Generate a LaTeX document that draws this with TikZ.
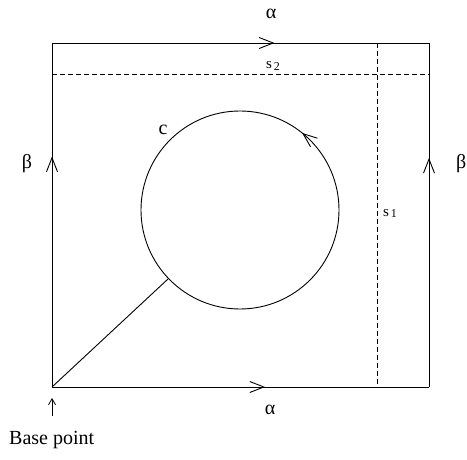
\documentclass[tikz,border=0pt]{standalone}
\usepackage{fontspec}
\setmainfont{Liberation Serif}
\usetikzlibrary{arrows.meta,decorations.markings}
\tikzset{
  edge/.style={line width=0.9pt},
  dashline/.style={line width=0.8pt, dash pattern=on 5pt off 3pt},
  midarrow/.style={postaction={decorate},
    decoration={markings, mark=at position #1 with {\arrow{Straight Barb[length=14pt,width=11pt,line width=0.9pt]}}}},
  lbl/.style={inner sep=0pt, font=\fontsize{20}{22}\selectfont},
  slbl/.style={inner sep=0pt, font=\fontsize{15}{17}\selectfont},
}
\begin{document}
\begin{tikzpicture}[x=1pt,y=-1pt]
\useasboundingbox (0,0) rectangle (467,460);
\coordinate (A) at (52,387);
\coordinate (B) at (429,387);
\coordinate (C) at (429,43);
\coordinate (D) at (52,43);
\coordinate (S2l) at (52,74);
\coordinate (S2r) at (429,74);
\coordinate (S1t) at (377,43);
\coordinate (S1b) at (377,387);
\coordinate (E) at (339,210);
\coordinate (T) at (168,279);
% square
\draw[edge, midarrow=0.565] (A) -- (B);
\draw[edge, midarrow=0.59] (D) -- (C);
\draw[edge, midarrow=0.67] (A) -- (D);
\draw[edge, midarrow=0.666] (B) -- (C);
% dashed curves
\draw[dashline] (S2l) -- (S2r);
\draw[dashline] (S1t) -- (S1b);
% circle
\draw[edge, midarrow=0.142] (E) arc[start angle=0, end angle=-360, radius=99];
\draw[edge] (A) -- (T);
% base point arrow
\coordinate (bp1) at (52,416);
\coordinate (bp2) at (52,398);
\draw[line width=0.8pt, -{Straight Barb[length=6pt,width=7pt]}] (bp1) -- (bp2);
% labels
\node[lbl] (la1) at (271,14) {α};
\node[lbl] (la2) at (270,410) {α};
\node[lbl] (lb1) at (27,164) {β};
\node[lbl, anchor=west] (lb2) at (456,164) {β};
\node[lbl] (lc) at (163,130) {c};
\node[slbl] (ls2) at (273,66) {s\kern2pt\raisebox{-2pt}{\fontsize{12}{12}\selectfont 2}};
\node[slbl] (ls1) at (390,213) {s\kern2pt\raisebox{-1pt}{\fontsize{12}{12}\selectfont 1}};
\node[lbl, anchor=west] (base) at (9,440) {Base point};
\end{tikzpicture}
\end{document}
